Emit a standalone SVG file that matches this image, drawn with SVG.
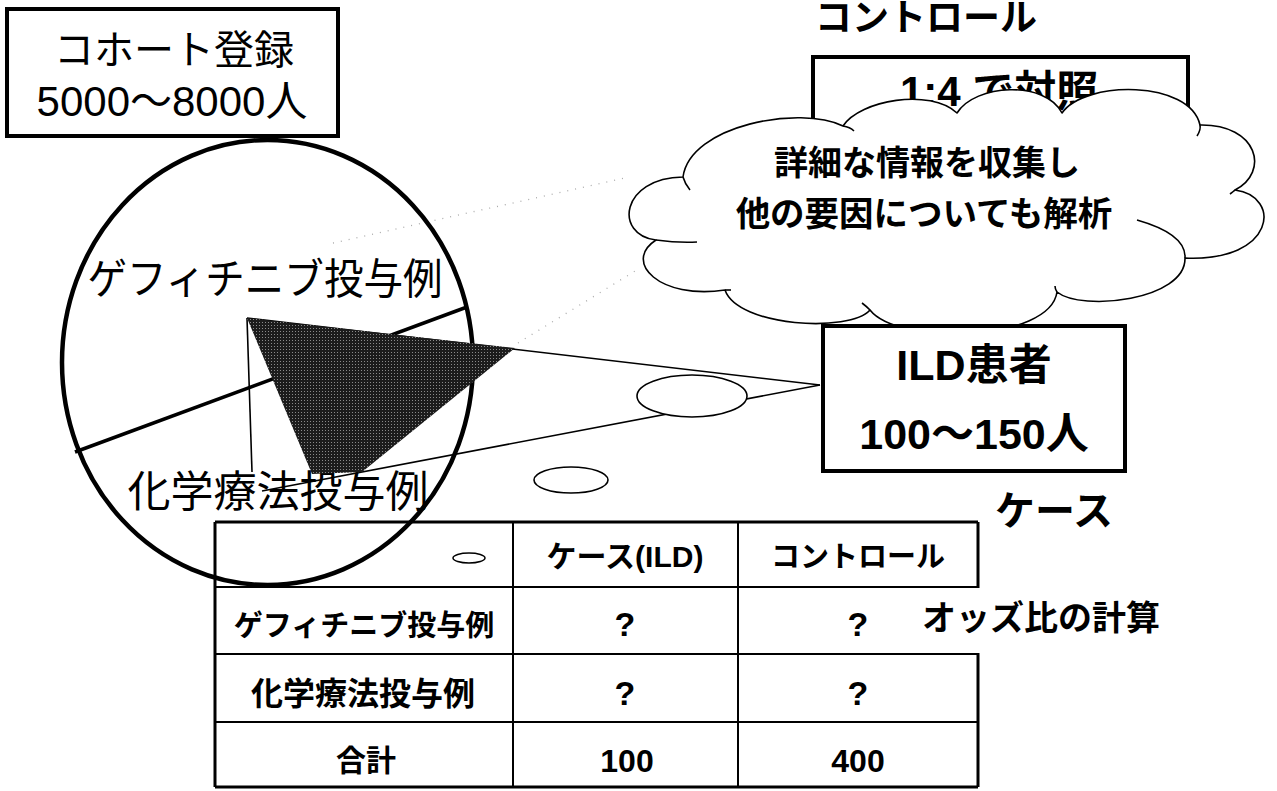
<svg xmlns="http://www.w3.org/2000/svg" width="1277" height="791" viewBox="0 0 1277 791">
<style>
text { font-family: "Liberation Sans", "Noto Sans CJK JP", sans-serif; fill: #000; }
.b { font-weight: bold; }
.c { text-anchor: middle; }
.q { font-size: 34px; font-weight: bold; text-anchor: middle; }
.box { fill: #fff; stroke: #000; stroke-width: 4; }
.thin { fill: none; stroke: #000; stroke-width: 1.6; }
.oval { fill: #fff; stroke: #000; stroke-width: 1.6; }
.cloud { fill: #fff; stroke: #000; stroke-width: 1.6; stroke-linejoin: round; }
.tail { fill: none; stroke: #000; stroke-width: 1.6; }
.tb { stroke: #000; stroke-width: 3; fill: none; }
.ti { stroke: #000; stroke-width: 2; fill: none; }
.dot { stroke: #aaa; stroke-width: 1.3; stroke-dasharray: 1 7; fill: none; }
</style>
<defs>
<pattern id="ht" width="3" height="3" patternUnits="userSpaceOnUse">
<rect width="3" height="3" fill="#1c1c1c"/>
<rect x="1" y="1" width="1" height="1" fill="#8a8a8a"/>
</pattern>
</defs>
<rect width="1277" height="791" fill="#fff"/>

<g id="connectors">
<path class="dot" d="M333,243 L625,178"/>
<path class="dot" d="M518,343 L640,268"/>
<path class="thin" d="M247,318 L820,385"/>
<path class="thin" d="M247,318 L252,472"/>
<path class="thin" d="M262,491 L820,385"/>
</g>

<g id="cohort-circle">
<ellipse cx="267.5" cy="362.5" rx="205.5" ry="222.5" fill="none" stroke="#000" stroke-width="4.5"/>
<line x1="75" y1="452" x2="467" y2="307" stroke="#000" stroke-width="3.5"/>
<text x="265" y="294" font-size="42" class="c" textLength="355" lengthAdjust="spacingAndGlyphs">ゲフィチニブ投与例</text>
<text x="278" y="507" font-size="43" class="c">化学療法投与例</text>
</g>

<g id="selection">
<polygon points="247,318 515,348 362,472 312,474" fill="url(#ht)"/>
<ellipse class="oval" cx="692" cy="396" rx="55" ry="21"/>
<ellipse class="oval" cx="571" cy="480" rx="37" ry="13"/>
</g>

<g id="cohort-box">
<rect class="box" x="7" y="9" width="331" height="127"/>
<text x="174" y="64" font-size="40" class="c">コホート登録</text>
<text x="172" y="116" font-size="42" class="c">5000～8000人</text>
</g>

<g id="control">
<text x="815" y="31" font-size="37" class="b">コントロール</text>
<rect class="box" x="813" y="57" width="375" height="120"/>
<text x="900" y="106" font-size="42" class="b">1:4 で対照</text>
</g>

<g id="cloud">
<path class="cloud" d="M683,177 C690,125 800,105 843,126 C860,100 930,88 957,113 C975,84 1045,80 1062,113 C1085,80 1190,80 1200,125 C1258,124 1270,172 1235,190 C1282,196 1276,262 1185,258 C1186,300 1082,312 1057,292 C1050,342 898,346 870,310 C850,333 738,327 725,290 C660,300 622,262 656,240 C614,235 620,178 683,177 Z"/>
<path class="tail" d="M843,126 Q850,127 854,131"/>
<path class="tail" d="M683,177 Q685,184 690,190"/>
<path class="tail" d="M656,240 Q678,243 697,242"/>
<path class="tail" d="M725,290 Q728,290 731,290"/>
<path class="tail" d="M870,310 Q866,306 862,303"/>
<path class="tail" d="M1057,292 Q1055,289 1055,286"/>
<path class="tail" d="M1137,220 C1165,228 1186,240 1185,258"/>
<path class="tail" d="M1235,190 Q1234,191 1230,194"/>
<path class="tail" d="M1200,125 Q1201,130 1197,136"/>
<text x="927" y="175" font-size="34" class="b c">詳細な情報を収集し</text>
<text x="924" y="226" font-size="34.5" class="b c">他の要因についても解析</text>
</g>

<g id="ild-box">
<rect class="box" x="823" y="326" width="302" height="145"/>
<text x="974" y="380" font-size="43" class="b c">ILD患者</text>
<text x="974" y="449" font-size="43" class="b c">100～150人</text>
</g>

<g id="case-label">
<text x="995" y="525" font-size="40" class="b">ケース</text>
</g>

<g id="table">
<path class="tb" d="M215,522 L978,522 M215,522 L215,787 M978,522 L978,588 M978,653 L978,787 M215,787 L978,787"/>
<path class="ti" d="M215,587 L978,587 M215,654 L978,654 M215,722 L978,722 M513,522 L513,787 M738,522 L738,787"/>
<ellipse cx="469" cy="558" rx="16" ry="5" fill="none" stroke="#000" stroke-width="1.5"/>
<text x="625" y="567" font-size="30" class="b c">ケース(ILD)</text>
<text x="858" y="567" font-size="29" class="b c">コントロール</text>
<text x="364" y="636" font-size="29" class="b c">ゲフィチニブ投与例</text>
<text x="625" y="636" class="q">?</text>
<text x="858" y="636" class="q">?</text>
<text x="363" y="705" font-size="32" class="b c">化学療法投与例</text>
<text x="625" y="705" class="q">?</text>
<text x="858" y="705" class="q">?</text>
<text x="366" y="771" font-size="30" class="b c">合計</text>
<text x="627" y="772" font-size="32" class="b c">100</text>
<text x="858" y="772" font-size="32" class="b c">400</text>
</g>

<g id="odds">
<text x="922" y="630" font-size="34" class="b">オッズ比の計算</text>
</g>
</svg>
